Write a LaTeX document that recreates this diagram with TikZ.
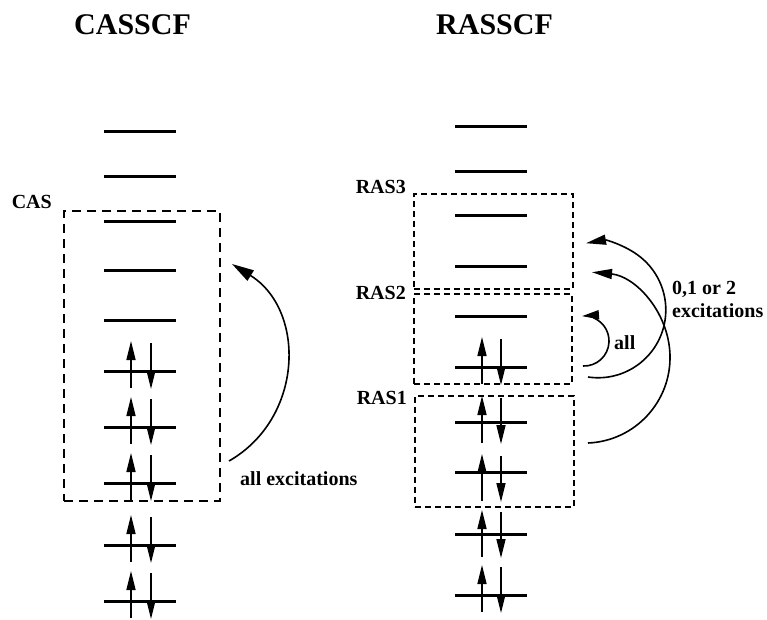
\documentclass[tikz,border=0pt]{standalone}
\usepackage{fontspec}
\setmainfont{Liberation Serif}
\usetikzlibrary{arrows.meta}
\begin{document}
\begin{tikzpicture}[x=1pt,y=-1pt]
\tikzset{
  orbital/.style={line width=3pt},
  spin/.style={line width=1.5pt,-{Triangle[length=19pt,width=9pt]}},
  casframe/.style={draw, line width=2.2pt, dash pattern=on 9pt off 6pt, inner sep=0pt, anchor=north west},
  rasframe/.style={draw, line width=1.5pt, dash pattern=on 6pt off 4pt, inner sep=0pt, anchor=north west},
  excite/.style={line width=1.6pt,-{Triangle[length=20pt,width=10pt]}},
  heading/.style={font=\fontsize{30}{36}\selectfont\bfseries, inner sep=0pt, anchor=base west},
  tag/.style={font=\fontsize{20}{24}\selectfont\bfseries, inner sep=0pt},
}
\useasboundingbox (0,0) rectangle (767,619);

% titles
\node[heading] (tcas) at (74,34) {CASSCF};
\node[heading] (tras) at (436,34) {RASSCF};

% ---- CASSCF orbital ladder ----
\foreach \y [count=\k] in {131,176,221,270,320,371,427,483,545,601}
  \draw[orbital] (104,\y) coordinate (cl\k) -- (176,\y);
\foreach \y in {371,427,483,545,601}{
  \draw[spin] (131,\y+17) -- (131,\y-30);
  \draw[spin] (151,\y-28) -- (151,\y+18);
}
\node[casframe, minimum width=156pt, minimum height=290pt] (cas) at (63,210) {};
\node[tag, anchor=base east] (caslbl) at (52,208) {CAS};

% all excitations within the active space
\coordinate (casfrom) at (229,461);
\coordinate (casto) at (232,264);
\draw[excite,-{Triangle[length=22pt,width=12pt]}]
  (casfrom) .. controls (304,418) and (306,310) .. (casto);
\node[tag, anchor=base west] (casexc) at (240,485) {all excitations};

% ---- RASSCF orbital ladder ----
\foreach \y [count=\k] in {126,171,215,266,316,367,422,472,534,595}
  \draw[orbital] (455,\y) coordinate (rl\k) -- (527,\y);
\foreach \y/\s in {367/0,422/4,472/12,534/6,595/0}{
  \draw[spin] (482,\y+\s+17) -- (482,\y+\s-30);
  \draw[spin] (501,\y+\s-28) -- (501,\y+\s+18);
}
\node[rasframe, minimum width=159pt, minimum height=95pt] (ras3) at (413,193) {};
\node[rasframe, minimum width=158pt, minimum height=90pt] (ras2) at (413,293) {};
\node[rasframe, minimum width=159pt, minimum height=111pt] (ras1) at (414,395) {};
\node[tag, anchor=base east] (l3) at (406,193) {RAS3};
\node[tag, anchor=base east] (l2) at (406,299) {RAS2};
\node[tag, anchor=base east] (l1) at (407,404) {RAS1};

% excitations between the RAS subspaces
\coordinate (r2out) at (588,377);
\coordinate (r1out) at (588,443);
\coordinate (r2in) at (583,366);
\draw[excite] (r2out) arc[start angle=98.5, end angle=-100.2, radius=67.8];
\draw[excite] (r1out) arc[start angle=87.6, end angle=-84.9, radius=85.6];
\draw[excite,-{Triangle[length=17pt,width=9pt]}] (r2in) arc[start angle=92.3, end angle=-94.6, radius=25];
\node[tag, anchor=base west] (allr) at (614,349) {all};
\node[tag, anchor=base west] (n012) at (672,294) {0,1 or 2};
\node[tag, anchor=base west] (nexc) at (672,317) {excitations};
\end{tikzpicture}
\end{document}
